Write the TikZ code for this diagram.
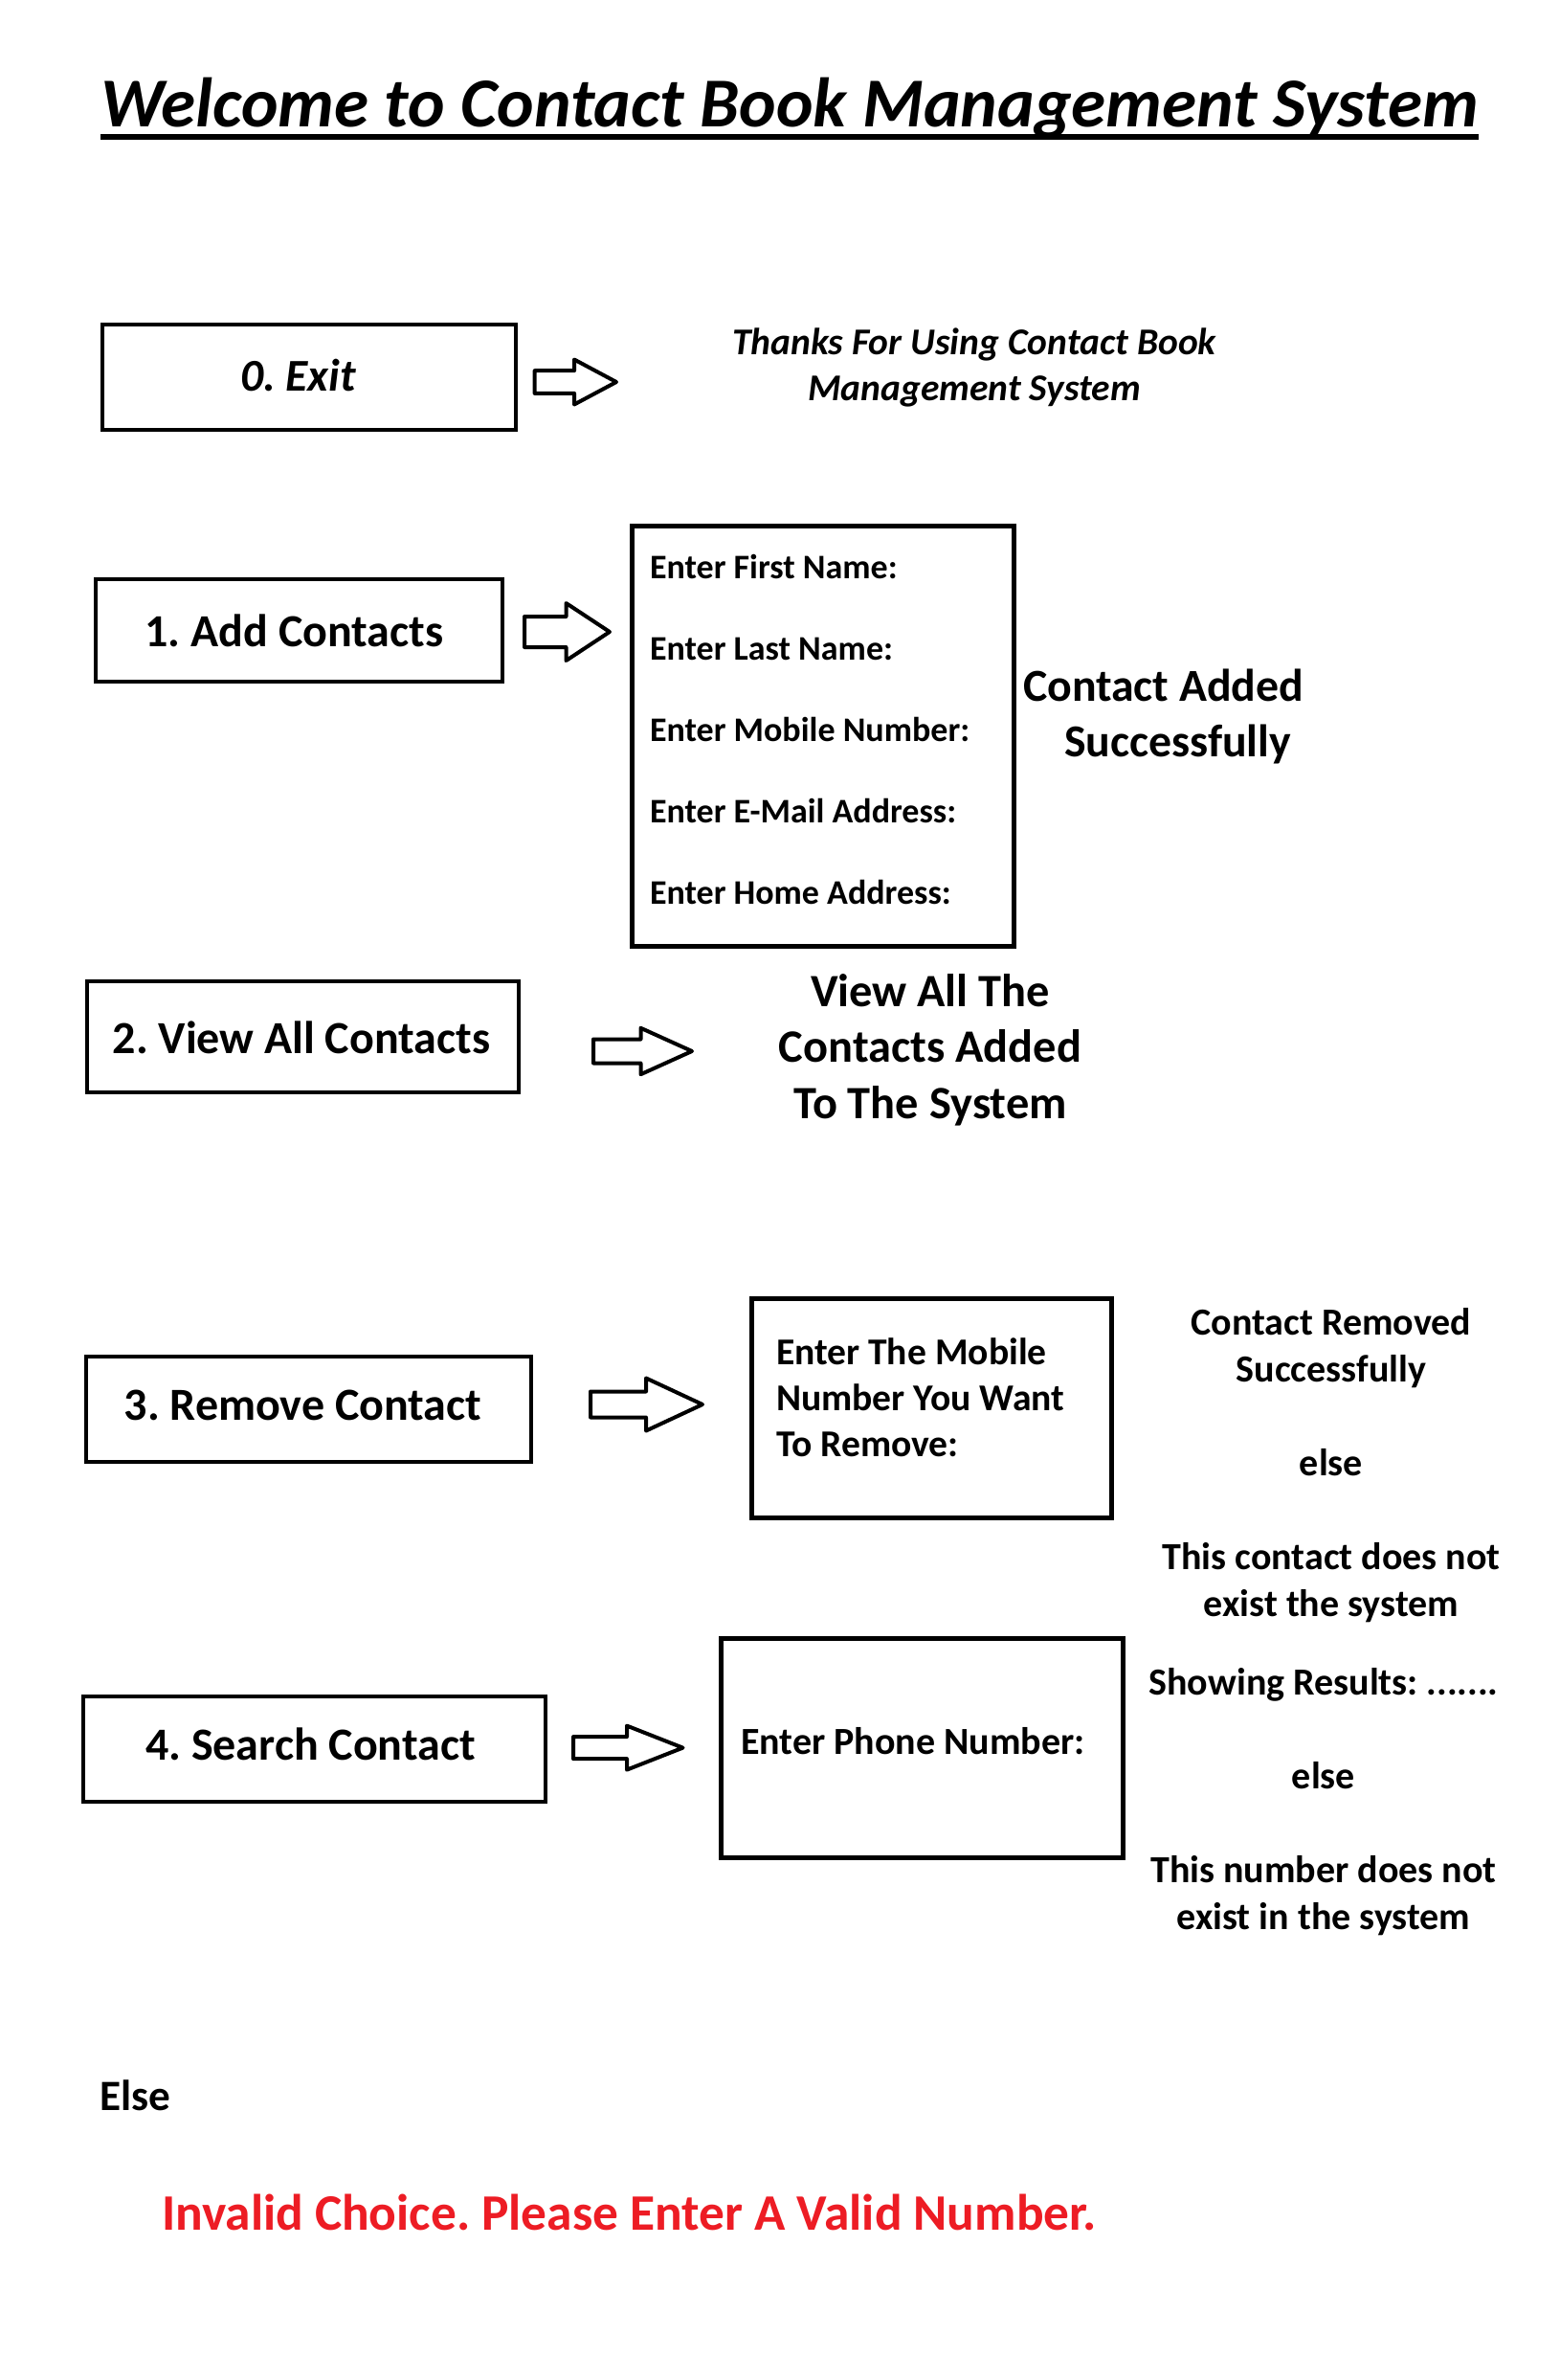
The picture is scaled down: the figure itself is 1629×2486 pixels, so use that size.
\documentclass[tikz,border=0pt]{standalone}
\usepackage{fontspec}
\setmainfont{Carlito}
\usetikzlibrary{fit}
\definecolor{errred}{RGB}{237,28,36}
\frenchspacing
\begin{document}
\frenchspacing
\begin{tikzpicture}[x=0.5pt,y=-0.5pt,
  optbox/.style={draw=black,line width=2pt,inner sep=0pt},
  inbox/.style={draw=black,line width=2.5pt,inner sep=0pt},
  blockarrow/.style={draw=black,line width=2pt,line join=round},
  txt/.style={inner sep=0pt,outer sep=0pt},
  optfont/.style={font=\bfseries\fontsize{24}{29}\selectfont},
  pics/harrow/.style n args={4}{code={
    \draw[blockarrow] (0,-#3) -- (#1,-#3) -- (#1,-#4) -- (#2,0) -- (#1,#4) -- (#1,#3) -- (0,#3) -- cycle;}}
]
\useasboundingbox (0,0) rectangle (1629,2486);
\fill[white] (0,0) rectangle (1629,2486);

% title
\node[txt,anchor=base west,font=\bfseries\itshape\fontsize{36.6}{43}\selectfont] (title) at (105,132) {Welcome to Contact Book Management System};
\draw[line width=3pt] ([yshift=-5.5pt]title.base west) -- ([yshift=-5.5pt]title.base east);

% 0. Exit
\node[optbox,fit={(106.5,339) (539,449)}] (exit) {};
\node[txt,anchor=base,font=\bfseries\itshape\fontsize{23.75}{28}\selectfont] (exittxt) at (311.5,408) {0. Exit};
\pic at (558.6,399) {harrow={41.4}{85.4}{11.8}{23.5}};
\node[txt,anchor=base,align=center,font=\bfseries\itshape\fontsize{19.75}{24.2}\selectfont] (thanks) at (1018,418.4) {Thanks For Using Contact Book\\Management System};

% 1. Add Contacts
\node[optbox,fit={(100,605) (525,712)}] (add) {};
\node[txt,anchor=base,optfont] (addtxt) at (307.5,675) {1. Add Contacts};
\pic at (548,660) {harrow={43.5}{89}{16}{30}};
\node[inbox,fit={(660.5,549.5) (1059.5,988.5)}] (addin) {};
\node[txt,anchor=base west,align=left,font=\bfseries\fontsize{18}{42.4}\selectfont] (addfields) at (679,944) {Enter First Name:\\Enter Last Name:\\Enter Mobile Number:\\Enter E-Mail Address:\\Enter Home Address:};
\node[txt,anchor=base west,align=left,font=\bfseries\fontsize{23.9}{29}\selectfont] (added) at (1069,790) {Contact Added\\\hspace*{21.5pt}Successfully};

% 2. View All Contacts
\node[optbox,fit={(91,1025) (542,1141)}] (view) {};
\node[txt,anchor=base,optfont] (viewtxt) at (315,1100) {2. View All Contacts};
\pic at (620,1098) {harrow={49.5}{103}{12.5}{24.2}};
\node[txt,anchor=base,align=center,font=\bfseries\fontsize{24.2}{29.25}\selectfont] (viewres) at (972,1168) {View All The\\Contacts Added\\To The System};

% 3. Remove Contact
\node[optbox,fit={(90,1417) (555,1527)}] (remove) {};
\node[txt,anchor=base,optfont] (removetxt) at (316.5,1483) {3. Remove Contact};
\pic at (617,1467) {harrow={58}{117}{13.5}{27.5}};
\node[inbox,fit={(785.5,1356) (1161.5,1585.5)}] (removein) {};
\node[txt,anchor=base west,align=left,font=\bfseries\fontsize{19.8}{24}\selectfont] (removefields) at (811,1521) {Enter The Mobile\\Number You Want\\To Remove:};
\node[txt,anchor=base,align=center,font=\bfseries\fontsize{20}{24.5}\selectfont] (removeres) at (1391,1688) {Contact Removed\\Successfully\\[24.5pt]else\\[24.5pt]This contact does not\\exist the system};

% 4. Search Contact
\node[optbox,fit={(87,1772) (570,1882)}] (search) {};
\node[txt,anchor=base,optfont] (searchtxt) at (324.5,1838.6) {4. Search Contact};
\pic at (599,1825.6) {harrow={56}{114.5}{11.5}{23}};
\node[inbox,fit={(753.5,1711) (1173.5,1940.5)}] (searchin) {};
\node[txt,anchor=base west,font=\bfseries\fontsize{20}{24}\selectfont] (searchfield) at (774,1832.5) {Enter Phone Number:};
\node[txt,anchor=base,align=center,font=\bfseries\fontsize{20}{24.5}\selectfont] (searchres) at (1383,2015.5) {Showing Results: .......\\[24.5pt]else\\[24.5pt]This number does not\\exist in the system};

% Else
\node[txt,anchor=base west,font=\bfseries\fontsize{22.6}{28}\selectfont] (elsetxt) at (104,2204) {Else};
\node[txt,anchor=base west,text=errred,font=\bfseries\fontsize{26.7}{32}\selectfont] (invalid) at (169,2329) {Invalid Choice. Please Enter A Valid Number.};
\end{tikzpicture}
\end{document}
